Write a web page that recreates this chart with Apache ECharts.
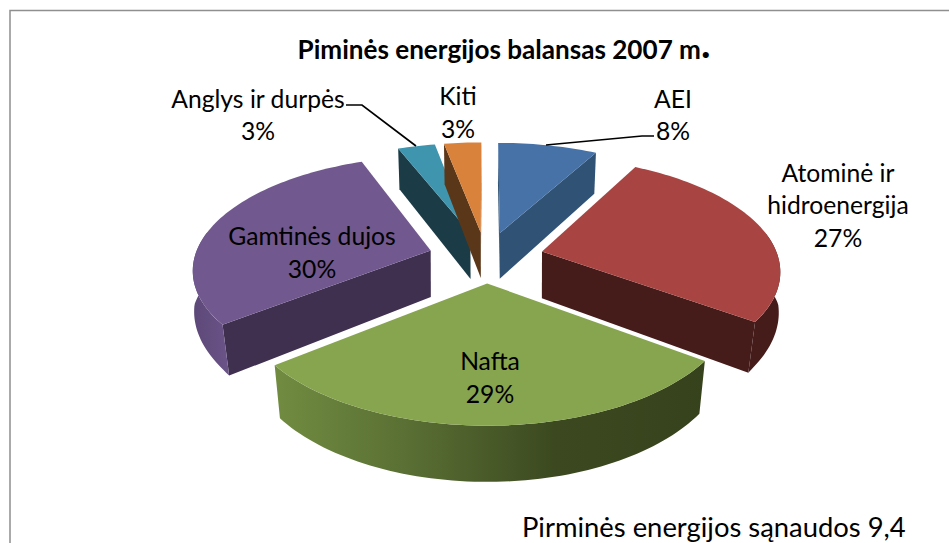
<!DOCTYPE html>
<html><head><meta charset="utf-8">
<style>html,body{margin:0;padding:0;background:#fff;overflow:hidden}#c{width:949px;height:543px}svg text{font-variant-ligatures:none}</style>
<script src="https://cdn.jsdelivr.net/npm/echarts@6/dist/echarts.min.js"></script>
</head><body><div id="c"></div>
<script>
const categories = ['AEI', 'Atominė ir\nhidroenergija', 'Nafta', 'Gamtinės dujos', 'Anglys ir durpės', 'Kiti'];
const values = [8, 27, 29.4, 29.6, 3, 3];
const titleText = 'Piminės energijos balansas 2007 m';
const footnote = 'Pirminės energijos sąnaudos 9,4';

const topColors = ['#4672a8', '#a84543', '#87a44e', '#71588e', '#4095ae', '#d9823b'];
const wallColors = ['#2f5275', '#451c1a', '#3d4a20', '#3f3050', '#1b3c47', '#5b3719'];
const paintOrder = [2, 3, 5, 4, 1, 1.5];
const labelAnchors = [[673, 114.5], [838, 204.5], [490, 377], [312, 252], [258, 114.5], [458, 112]];
const FONT = 'Lato, "Open Sans", sans-serif';

// projection of the tilted, exploded pie
const cx = 486, cy = 257, P = 236, B = 111, persY = 0.155, persX = 0.15, persH = 0.133, H = 47, explodeX = 0.245, explodeY = 0.23;
const total = values.reduce((a, b) => a + b, 0);
function sliceAngles(i) {
  let s = 0;
  for (let k = 0; k < i; k++) s += values[k];
  return [s / total * 360, (s + values[i]) / total * 360];
}
function project(deg, r, bottom, mid) {
  const a = deg * Math.PI / 180, m = mid * Math.PI / 180;
  const X = Math.sin(a) * r + explodeX * Math.sin(m);
  const Y = -Math.cos(a) * r - explodeY * Math.cos(m);
  let x = cx + P * X / (1 - persX * Y);
  let y = cy + B * Y / (1 - persY * Y);
  if (bottom) {
    const shrink = Y >= 0 ? Math.max(0.975, 1 - 0.05 * Y) : Math.max(0.985, 1 + 0.05 * Y);
    x = cx + (x - cx) * shrink;
    y += H / (1 - persH * Y);
  }
  return [x, y];
}
function arc(from, to, r, bottom, mid) {
  const pts = [], n = Math.max(2, Math.ceil(Math.abs(to - from) / 1.5));
  for (let i = 0; i <= n; i++) pts.push(project(from + (to - from) * i / n, r, bottom, mid));
  return pts;
}
function wallFill(i) {
  if (i === 2) return new echarts.graphic.LinearGradient(0, 0, 1, 0, [
    { offset: 0, color: '#718c41' }, { offset: 0.3, color: '#5a7034' }, { offset: 0.65, color: '#3c4920' }, { offset: 1, color: '#36421c' }]);
  if (i === 3) return new echarts.graphic.LinearGradient(0, 0, 1, 0, [
    { offset: 0, color: '#5c4878' }, { offset: 1, color: '#6b5488' }]);
  return wallColors[i];
}
function renderSlice(params, api) {
  const i = params.dataIndex;
  const [a0, a1] = sliceAngles(i);
  const mid = (a0 + a1) / 2;
  const z = paintOrder[i] * 10;
  const kids = [];
  const apex = project(0, 0, false, mid), apexB = project(0, 0, true, mid);
  const inner = project(mid, 0.6, false, mid);
  [a0, a1].forEach(function (ang) {
    const e = project(ang, 1, false, mid), eb = project(ang, 1, true, mid);
    const t = (inner[0] - apex[0]) / ((e[0] - apex[0]) || 1e-6);
    const lineY = apex[1] + (e[1] - apex[1]) * t;
    if (inner[1] < lineY) {
      kids.push({ type: 'polygon', z2: z, shape: { points: [apex, e, eb, apexB] }, style: { fill: wallColors[i] } });
    }
  });
  const from = Math.max(a0, 80), to = Math.min(a1, 280);
  if (to > from) {
    const up = arc(from, to, 1, false, mid), down = arc(from, to, 1, true, mid).reverse();
    kids.push({ type: 'polygon', z2: z + 1, shape: { points: up.concat(down) }, style: { fill: wallFill(i) } });
  }
  kids.push({ type: 'polygon', z2: z + 2, shape: { points: [apex].concat(arc(a0, a1, 1, false, mid)) }, style: { fill: topColors[i] } });
  const an = labelAnchors[i];
  kids.push({ type: 'text', z2: 100, style: {
    x: an[0], y: an[1], text: categories[i] + '\n' + Math.round(api.value(0)) + '%', align: 'center', verticalAlign: 'middle',
    font: '24.7px ' + FONT, lineHeight: 32.5, fill: '#000' } });
  return { type: 'group', children: kids };
}
const chart = echarts.init(document.getElementById('c'), null, { renderer: 'svg' });
chart.setOption({
  animation: false,
  backgroundColor: '#fff',
  title: {
    text: '{a|' + titleText + '}{b|.}', left: 499, top: 18, textAlign: 'center',
    textStyle: { rich: {
      a: { fontFamily: FONT, fontWeight: 'bold', fontSize: 26.1, color: '#000' },
      b: { fontFamily: FONT, fontWeight: 'bold', fontSize: 40, color: '#000', padding: [0, 0, 12, 0] } } }
  },
  graphic: [
    { type: 'rect', z: -1, shape: { x: 10, y: 10.5, width: 1100, height: 700 }, style: { fill: '#fff', stroke: '#8f8f8f', lineWidth: 1.5 } },
    { type: 'polyline', z: 50, shape: { points: [[346, 105], [362, 105], [416, 146]] }, style: { fill: 'none', stroke: '#000', lineWidth: 1.7 } },
    { type: 'polyline', z: 50, shape: { points: [[546, 145], [642, 136], [654, 136]] }, style: { fill: 'none', stroke: '#000', lineWidth: 1.7 } },
    { type: 'text', z: 50, style: { x: 522, y: 526, text: footnote, font: '27.4px ' + FONT, fill: '#000', verticalAlign: 'middle' } }
  ],
  series: [{
    type: 'custom', coordinateSystem: 'none', renderItem: renderSlice,
    data: values.map(function (v) { return [v]; }), silent: true, clip: false
  }]
});
</script></body></html>
